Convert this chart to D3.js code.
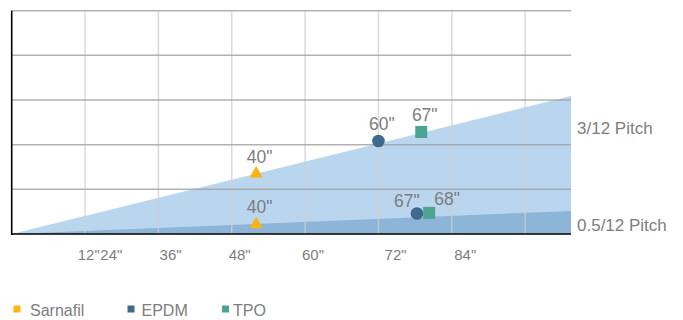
<!DOCTYPE html>
<html>
<head>
<meta charset="utf-8">
<script src="https://cdn.jsdelivr.net/npm/d3@7"></script>
<style>
  body { margin: 0; background: #fff; }
  svg text { font-family: "Liberation Sans", Arial, sans-serif; fill: #7d7d7d; }
</style>
</head>
<body>
<svg id="chart"></svg>
<script>
// roof span (inches) vs rise (inches)
const pitches = [3, 0.5];
const pitchLabels = ["3/12 Pitch", "0.5/12 Pitch"];

const series = ["Sarnafil", "EPDM", "TPO"];
const sarnafilSpan = [40, 40];
const sarnafilRise = [10, 1.6];
const sarnafilLabel = ['40"', '40"'];
const epdmSpan = [60, 66.3];
const epdmRise = [15.4, 3.4];
const epdmLabel = ['60"', '67"'];
const tpoSpan = [67, 68.3];
const tpoRise = [16.9, 3.5];
const tpoLabel = ['67"', '68"'];

const tickLabels = ['12"', '24"', '36"', '48"', '60"', '72"', '84"'];
const tickAt = [12.6, 16.3, 26.0, 37.3, 49.3, 62.8, 74.2];

const width = 683, height = 320;
const maxSpan = 91.5, maxRise = 37;

const svg = d3.select("#chart").attr("width", width).attr("height", height);

const x = d3.scaleLinear().domain([0, maxSpan]).range([11.7, 571]);
const y = d3.scaleLinear().domain([0, maxRise]).range([234, 10.7]);

const color = d3.scaleOrdinal().domain(series).range(["#fbb316", "#3f6a8c", "#4ba394"]);
const shape = d3.scaleOrdinal().domain(series).range([d3.symbolTriangle, d3.symbolCircle, d3.symbolSquare]);
const size = d3.scaleOrdinal().domain(series).range([77, 125, 144]);

// pitch areas
const fills = ["#bad5ee", "#8db5d7"];
svg.selectAll(".pitch")
    .data(pitches)
    .enter()
    .append("path")
    .attr("class", "pitch")
    .attr("fill", (d, i) => fills[i])
    .attr("d", p => d3.line().x(d => x(d[0])).y(d => y(d[1]))(
        [[0, 0], [maxSpan, maxSpan * p / 12], [maxSpan, 0]]) + "Z");

// grid
svg.selectAll(".vgrid")
    .data(d3.range(12, maxSpan, 12))
    .enter()
    .append("line")
    .attr("x1", d => x(d)).attr("x2", d => x(d))
    .attr("y1", y(maxRise)).attr("y2", y(0))
    .attr("stroke", "#cfcfcf").attr("stroke-opacity", 0.75).attr("stroke-width", 1.5);

svg.selectAll(".hgrid")
    .data(d3.range(1, 6).map(i => i * maxRise / 5))
    .enter()
    .append("line")
    .attr("x1", x(0)).attr("x2", x(maxSpan))
    .attr("y1", d => y(d)).attr("y2", d => y(d))
    .attr("stroke", "#a3a3a3").attr("stroke-opacity", 0.85).attr("stroke-width", 1.5);

// axes lines
svg.append("line")
    .attr("x1", x(0)).attr("x2", x(0)).attr("y1", y(maxRise)).attr("y2", y(0) + 1)
    .attr("stroke", "#000").attr("stroke-width", 1.6);
svg.append("line")
    .attr("x1", x(0)).attr("x2", x(maxSpan)).attr("y1", y(0)).attr("y2", y(0))
    .attr("stroke", "#000").attr("stroke-width", 1.6);

// tick labels
svg.selectAll(".tick")
    .data(tickLabels)
    .enter()
    .append("text")
    .attr("x", (d, i) => x(tickAt[i]))
    .attr("y", 260)
    .attr("text-anchor", "middle")
    .attr("font-size", 15)
    .text(d => d);

// pitch labels
svg.selectAll(".plabel")
    .data(pitchLabels)
    .enter()
    .append("text")
    .attr("x", 577)
    .attr("y", (d, i) => [133.5, 230.5][i])
    .attr("font-size", 17)
    .text(d => d);

// points
const points = [
    ...sarnafilSpan.map((s, i) => ({ series: "Sarnafil", span: s, rise: sarnafilRise[i], label: sarnafilLabel[i], idx: i })),
    ...epdmSpan.map((s, i) => ({ series: "EPDM", span: s, rise: epdmRise[i], label: epdmLabel[i], idx: i })),
    ...tpoSpan.map((s, i) => ({ series: "TPO", span: s, rise: tpoRise[i], label: tpoLabel[i], idx: i }))
];

// label nudges where two labels would collide
const nudge = { "EPDM-1": [-10, -6], "TPO-1": [18, -8] };

svg.selectAll(".pt")
    .data(points)
    .enter()
    .append("path")
    .attr("transform", d => `translate(${x(d.span)},${y(d.rise)})`)
    .attr("fill", d => color(d.series))
    .attr("d", d => d3.symbol().type(shape(d.series)).size(size(d.series))());

svg.selectAll(".ptlabel")
    .data(points)
    .enter()
    .append("text")
    .attr("x", d => x(d.span) + (nudge[d.series + "-" + d.idx] || [3.5, -11])[0])
    .attr("y", d => y(d.rise) + (nudge[d.series + "-" + d.idx] || [3.5, -11])[1])
    .attr("text-anchor", "middle")
    .attr("font-size", 17.5)
    .text(d => d.label);

// legend
const legendX = [13.5, 127.5, 222];
const legend = svg.selectAll(".legend")
    .data(series)
    .enter()
    .append("g")
    .attr("transform", (d, i) => `translate(${legendX[i]},305.5)`);

legend.append("rect")
    .attr("width", 7).attr("height", 7)
    .attr("fill", d => color(d));

legend.append("text")
    .attr("x", (d, i) => [16.5, 14, 11][i])
    .attr("y", 10.5)
    .attr("font-size", 16)
    .text(d => d);
</script>
</body>
</html>
